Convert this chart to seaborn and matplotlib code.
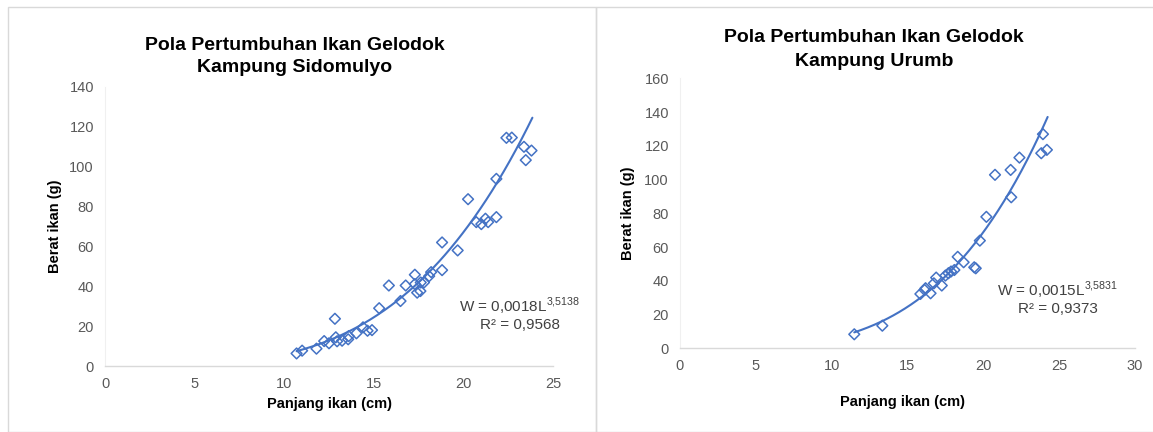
import numpy as np
import pandas as pd
import matplotlib
matplotlib.use("Agg")
import matplotlib.pyplot as plt
import seaborn as sns
from matplotlib.patches import Rectangle

# ---- data ----
sid_len = [10.69, 11.0, 11.8, 12.23, 12.5, 12.83, 12.88, 12.95, 13.23, 13.57, 13.6,
           14.03, 14.4, 14.65, 14.9, 15.3, 15.84, 16.49, 16.78, 17.29, 17.29, 17.42,
           17.6, 17.62, 17.8, 18.09, 18.2, 18.81, 18.81, 19.68, 20.26, 20.72, 21.0,
           21.23, 21.38, 21.84, 21.84, 22.4, 22.7, 23.38, 23.48, 23.8]
sid_wt = [6.3, 7.7, 8.7, 12.5, 11.4, 23.7, 14.4, 12.4, 12.7, 13.4, 15.0,
          16.4, 19.4, 17.7, 18.0, 29.0, 40.4, 32.6, 40.4, 45.8, 41.1, 36.8,
          37.6, 41.9, 41.9, 45.1, 47.1, 62.0, 48.1, 58.0, 83.7, 72.2, 71.2,
          73.9, 72.2, 74.7, 93.9, 114.5, 114.6, 110.0, 103.3, 108.1]
sid_a, sid_b, sid_r2 = 0.0018, 3.5138, "0,9568"

uru_len = [11.49, 13.34, 15.85, 16.13, 16.19, 16.52, 16.74, 16.89, 17.26, 17.5,
           17.7, 17.87, 18.09, 18.31, 18.7, 19.4, 19.5, 19.77, 20.2, 20.77,
           21.8, 21.84, 22.38, 23.82, 23.93, 24.19]
uru_wt = [8.3, 13.4, 32.2, 34.6, 35.6, 32.6, 38.5, 41.9, 37.2, 43.1,
          44.5, 45.5, 46.4, 54.2, 51.0, 48.0, 47.4, 63.8, 77.9, 102.8,
          105.7, 89.5, 113.0, 115.6, 126.9, 117.6]
uru_a, uru_b, uru_r2 = 0.0015, 3.5831, "0,9373"

titles = ["Pola Pertumbuhan Ikan Gelodok\nKampung Sidomulyo",
          "Pola Pertumbuhan Ikan Gelodok\nKampung Urumb"]
xlabel = "Panjang ikan (cm)"
ylabel = "Berat ikan (g)"
xticks_l = [0, 5, 10, 15, 20, 25]
yticks_l = [0, 20, 40, 60, 80, 100, 120, 140]
xticks_r = [0, 5, 10, 15, 20, 25, 30]
yticks_r = [0, 20, 40, 60, 80, 100, 120, 140, 160]

# ---- style ----
sns.set_theme(style="white")
plt.rcParams['font.family'] = ['Liberation Sans', 'DejaVu Sans']
plt.rcParams['mathtext.fontset'] = 'custom'
plt.rcParams['mathtext.rm'] = 'Liberation Sans'
BLUE = "#4472C4"
GREY_TXT = "#595959"
GREY_LINE = "#D9D9D9"

W, H = 1153, 432
fig = plt.figure(figsize=(W / 100, H / 100), dpi=100)

# panel borders
fig.patches.append(Rectangle((8 / W, 0), (596 - 8) / W, 1 - 7 / H, transform=fig.transFigure,
                             fill=False, edgecolor=GREY_LINE, linewidth=1.0))
fig.patches.append(Rectangle((596 / W, 0), (W + 5 - 596) / W, 1 - 7 / H, transform=fig.transFigure,
                             fill=False, edgecolor=GREY_LINE, linewidth=1.0))

def px_axes(x0, x1, y_top, y_bot):
    return fig.add_axes([x0 / W, 1 - y_bot / H, (x1 - x0) / W, (y_bot - y_top) / H])

ax1 = px_axes(105, 553, 87, 366)
ax2 = px_axes(680, 1135, 78.3, 348.3)

panels = [
    (ax1, sid_len, sid_wt, sid_a, sid_b, sid_r2, xticks_l, yticks_l, titles[0],
     (295, 45, 68), 55, (329, 404), (520, 306, 325), "3{,}5138", "0,0018"),
    (ax2, uru_len, uru_wt, uru_a, uru_b, uru_r2, xticks_r, yticks_r, titles[1],
     (874, 38, 62), 628, (903, 402), (1058, 290, 309), "3{,}5831", "0,0015"),
]

for (ax, L, Wt, a, b, r2, xt, yt, title, tpos, ylx, xlpos, apos, bs, as_) in panels:
    df = pd.DataFrame({"L": L, "W": Wt})
    sns.scatterplot(data=df, x="L", y="W", ax=ax, marker="D", s=30,
                    facecolors="none", edgecolor=BLUE, linewidth=1.1, zorder=3)
    lx = np.linspace(min(L), max(L) + 0.05, 200)
    trend = pd.DataFrame({"L": lx, "W": a * lx ** b})
    sns.lineplot(data=trend, x="L", y="W", ax=ax, color=BLUE, linewidth=1.5, zorder=2)
    ax.set_xlim(xt[0], xt[-1])
    ax.set_ylim(yt[0], yt[-1])
    ax.set_xticks(xt)
    ax.set_yticks(yt)
    ax.tick_params(axis="both", length=0, labelsize=10.5, labelcolor=GREY_TXT, pad=8)
    ax.set_xlabel("")
    ax.set_ylabel("")
    for s in ["top", "right"]:
        ax.spines[s].set_visible(False)
    ax.spines["bottom"].set_color(GREY_LINE)
    ax.spines["left"].set_color("#F0F0F0")
    ax.spines["bottom"].set_linewidth(1.0)
    ax.spines["left"].set_linewidth(0.8)
    ax.grid(False)
    # titles and labels placed in figure pixels
    t1, t2 = title.split("\n")
    fig.text(tpos[0] / W, 1 - tpos[1] / H, t1, ha="center", va="center",
             fontsize=14, fontweight="bold", color="black")
    fig.text(tpos[0] / W, 1 - tpos[2] / H, t2, ha="center", va="center",
             fontsize=14, fontweight="bold", color="black")
    ycen = (ax.get_position().y0 + ax.get_position().y1) / 2
    fig.text(ylx / W, ycen, ylabel, rotation=90, ha="center", va="center",
             fontsize=10.5, fontweight="bold", color="black")
    fig.text(xlpos[0] / W, 1 - xlpos[1] / H, xlabel, ha="center", va="center",
             fontsize=10.5, fontweight="bold", color="black")
    fig.text(apos[0] / W, 1 - apos[1] / H, "W = " + as_ + "L$^{\\mathregular{" + bs + "}}$",
             ha="center", va="center", fontsize=11, color="#404040")
    fig.text(apos[0] / W, 1 - apos[2] / H, "R² = " + r2,
             ha="center", va="center", fontsize=11, color="#404040")

fig.savefig("out.png", dpi=100, facecolor="white")
